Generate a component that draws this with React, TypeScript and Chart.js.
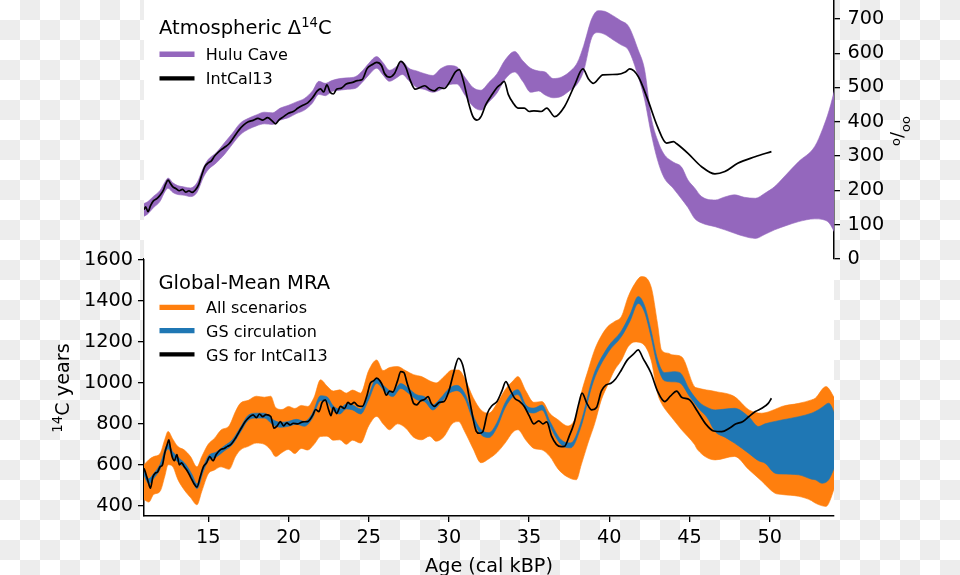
import React, { useEffect, useRef } from "react";
import { Chart, registerables } from "chart.js";

Chart.register(...registerables);

const FONT = '"DejaVu Sans", sans-serif';
const X_MIN = 11;
const X_MAX = 54;
const xTicks = [15, 20, 25, 30, 35, 40, 45, 50];
const topYTicks = [0, 100, 200, 300, 400, 500, 600, 700];
const bottomYTicks = [400, 600, 800, 1000, 1200, 1400, 1600];

const PURPLE = "#9467bd";
const ORANGE = "#ff7f0e";
const BLUE = "#1f77b4";

// ---- Top panel: Atmospheric D14C ----
const huluAge = [10.9, 11.2, 11.6, 12.0, 12.3, 12.5, 12.8, 13.1, 13.5, 13.9, 14.3, 14.7, 15.0, 15.5, 16.0, 16.5, 17.0, 17.5, 18.0, 18.5, 19.0, 19.5, 20.0, 20.5, 21.0, 21.5, 21.9, 22.3, 22.7, 23.2, 23.7, 24.2, 24.6, 25.0, 25.5, 25.9, 26.3, 26.7, 27.1, 27.5, 28.0, 28.5, 29.0, 29.5, 30.0, 30.5, 31.0, 31.5, 32.0, 32.5, 33.0, 33.5, 34.1, 34.6, 35.1, 35.6, 36.0, 36.5, 37.0, 37.5, 38.0, 38.4, 38.9, 39.3, 39.7, 40.2, 40.7, 41.2, 41.8, 42.2, 42.6, 43.0, 43.4, 44.0, 44.5, 44.9, 45.3, 45.75, 46.6, 47.2, 47.8, 48.4, 49.1, 49.7, 50.3, 51.0, 51.8, 52.8, 53.3, 53.7, 54.1];
const huluUpper = [160, 166, 183, 200, 224, 236, 222, 214, 210, 207, 222, 266, 290, 310, 338, 366, 396, 410, 420, 428, 426, 440, 448, 458, 468, 490, 518, 512, 520, 526, 528, 532, 548, 570, 590, 572, 550, 560, 575, 556, 548, 540, 535, 555, 564, 560, 530, 500, 492, 515, 540, 580, 605, 578, 556, 548, 545, 526, 530, 545, 572, 622, 700, 724, 722, 710, 695, 678, 609, 551, 415, 347, 306, 282, 268, 230, 208, 182, 172, 181, 187, 180, 177, 192, 211, 245, 284, 328, 380, 434, 505];
const huluLower = [122, 130, 150, 168, 196, 206, 194, 188, 186, 182, 194, 238, 260, 280, 304, 334, 362, 378, 388, 394, 392, 405, 412, 424, 434, 455, 480, 476, 488, 492, 495, 498, 515, 536, 556, 536, 518, 527, 538, 520, 500, 494, 486, 494, 508, 510, 478, 445, 434, 458, 484, 524, 545, 518, 486, 490, 478, 470, 474, 490, 510, 548, 645, 660, 655, 640, 625, 608, 532, 464, 367, 289, 238, 205, 175, 150, 119, 105, 94, 85, 75, 66, 60, 72, 85, 97, 109, 117, 115, 105, 72];

const intcalAge = [10.9, 11.0, 11.1, 11.25, 11.4, 11.6, 11.8, 12.0, 12.2, 12.35, 12.5, 12.65, 12.8, 13.0, 13.2, 13.4, 13.6, 13.8, 14.0, 14.2, 14.4, 14.6, 14.8, 15.0, 15.2, 15.4, 15.6, 15.8, 16.0, 16.3, 16.6, 16.9, 17.2, 17.5, 17.8, 18.1, 18.4, 18.7, 19.0, 19.2, 19.4, 19.7, 20.0, 20.3, 20.6, 20.9, 21.2, 21.5, 21.8, 22.0, 22.2, 22.4, 22.6, 22.8, 23.0, 23.3, 23.6, 24.0, 24.3, 24.6, 24.9, 25.2, 25.5, 25.8, 26.0, 26.3, 26.6, 27.0, 27.3, 27.6, 27.9, 28.2, 28.5, 28.8, 29.1, 29.4, 29.7, 30.1, 30.4, 30.65, 30.9, 31.2, 31.5, 31.75, 32.0, 32.3, 32.7, 33.0, 33.25, 33.45, 33.7, 34.0, 34.3, 34.7, 35.0, 35.3, 35.75, 36.1, 36.6, 37.2, 37.8, 38.35, 38.7, 39.0, 39.6, 40.5, 41.0, 41.27, 41.8, 42.4, 43.0, 43.56, 44.0, 44.2, 44.9, 45.75, 46.58, 47.2, 48.0, 49.08, 50.1];
const intcalD14C = [150, 145, 152, 138, 155, 170, 176, 186, 200, 218, 230, 220, 210, 205, 199, 203, 195, 199, 194, 201, 216, 245, 270, 280, 286, 300, 310, 318, 325, 336, 355, 375, 390, 400, 404, 410, 405, 412, 402, 394, 405, 415, 425, 430, 440, 448, 455, 470, 490, 496, 487, 508, 486, 481, 495, 498, 510, 515, 520, 523, 555, 566, 573, 564, 540, 530, 540, 576, 560, 520, 495, 500, 505, 495, 490, 500, 497, 520, 545, 552, 520, 460, 415, 405, 415, 450, 480, 500, 510, 518, 480, 455, 440, 440, 430, 432, 430, 440, 415, 444, 503, 554, 525, 512, 537, 538, 545, 554, 532, 464, 386, 338, 342, 336, 308, 269, 248, 255, 279, 298, 313];

// ---- Bottom panel: Global-Mean MRA ----
const allAge = [11.0, 11.3, 11.6, 12.0, 12.3, 12.5, 12.8, 13.1, 13.5, 13.9, 14.3, 14.6, 15.0, 15.4, 15.8, 16.3, 16.7, 17.0, 17.5, 18.0, 18.5, 18.9, 19.2, 19.6, 20.0, 20.4, 20.8, 21.2, 21.6, 22.0, 22.4, 22.8, 23.2, 23.6, 24.0, 24.5, 25.0, 25.5, 25.9, 26.3, 26.8, 27.3, 27.8, 28.3, 28.8, 29.2, 29.7, 30.2, 30.6, 31.0, 31.5, 32.0, 32.5, 33.0, 33.5, 34.0, 34.3, 34.8, 35.3, 35.8, 36.3, 36.8, 37.4, 37.94, 38.25, 38.67, 39.08, 39.5, 39.9, 40.33, 40.75, 41.17, 41.6, 42.0, 42.6, 43.0, 43.25, 43.67, 43.9, 44.5, 45.3, 45.5, 46.6, 47.8, 48.7, 49.5, 50.3, 50.75, 51.8, 52.6, 52.83, 53.5, 54.1];
const allUpper = [600, 625, 640, 655, 725, 763, 725, 690, 673, 640, 590, 640, 700, 730, 770, 790, 860, 900, 915, 935, 930, 935, 880, 870, 885, 875, 890, 885, 930, 1015, 985, 960, 966, 950, 965, 950, 1060, 1112, 1060, 1075, 1080, 1060, 1040, 1031, 1010, 1000, 1031, 1063, 1063, 1020, 930, 868, 852, 900, 966, 1010, 1031, 960, 905, 909, 850, 820, 790, 840, 950, 1060, 1161, 1230, 1275, 1300, 1324, 1420, 1486, 1519, 1470, 1290, 1161, 1145, 1137, 1128, 982, 975, 958, 933, 868, 852, 870, 885, 900, 917, 925, 982, 917];
const allLower = [430, 418, 455, 470, 545, 600, 590, 530, 478, 440, 405, 470, 555, 575, 590, 578, 640, 672, 690, 706, 700, 672, 640, 660, 675, 655, 680, 672, 700, 738, 740, 720, 722, 700, 720, 706, 790, 836, 800, 771, 800, 780, 735, 722, 740, 715, 738, 800, 811, 760, 680, 610, 630, 660, 706, 760, 771, 720, 680, 673, 640, 580, 540, 527, 600, 706, 800, 917, 990, 1063, 1110, 1177, 1200, 1195, 1112, 950, 900, 852, 830, 771, 700, 673, 624, 641, 576, 520, 462, 455, 446, 425, 413, 397, 500];

const gsAge = [11.0, 11.3, 11.6, 12.0, 12.5, 12.8, 13.2, 13.6, 14.0, 14.3, 14.7, 15.0, 15.5, 16.0, 16.5, 17.0, 17.5, 18.0, 18.5, 19.0, 19.5, 20.0, 20.5, 21.0, 21.5, 22.0, 22.4, 22.8, 23.2, 23.6, 24.0, 24.5, 25.0, 25.5, 26.0, 26.5, 27.0, 27.5, 28.0, 28.5, 29.0, 29.5, 30.0, 30.5, 31.0, 31.5, 32.0, 32.5, 33.0, 33.5, 34.0, 34.3, 34.8, 35.3, 35.8, 36.3, 37.0, 37.6, 38.2, 39.0, 39.9, 40.75, 41.3, 41.8, 42.2, 42.6, 43.0, 43.45, 44.0, 44.4, 45.0, 45.6, 46.1, 46.6, 47.2, 47.8, 48.67, 49.3, 49.7, 50.33, 50.75, 51.8, 52.6, 52.83, 53.25, 53.67, 54.1];
const gsUpper = [572, 532, 557, 602, 702, 662, 632, 602, 552, 507, 592, 642, 662, 692, 722, 782, 842, 852, 852, 822, 807, 812, 822, 812, 852, 937, 932, 887, 872, 897, 892, 872, 942, 1022, 982, 957, 997, 972, 942, 932, 892, 927, 972, 988, 947, 842, 772, 757, 807, 902, 957, 967, 892, 877, 892, 812, 722, 707, 802, 1034, 1174, 1254, 1336, 1422, 1376, 1256, 1116, 1050, 1055, 1050, 966, 906, 880, 868, 872, 876, 836, 787, 800, 812, 819, 835, 852, 860, 880, 901, 840];
const gsLower = [548, 508, 533, 578, 678, 638, 608, 578, 528, 483, 568, 618, 638, 668, 698, 758, 818, 828, 828, 798, 783, 788, 798, 788, 828, 913, 908, 863, 848, 873, 868, 848, 918, 998, 958, 933, 973, 948, 918, 908, 868, 903, 948, 962, 923, 818, 748, 733, 783, 878, 933, 943, 868, 853, 868, 788, 698, 683, 778, 1006, 1146, 1226, 1304, 1388, 1344, 1224, 1084, 1010, 1005, 1000, 934, 872, 830, 762, 735, 706, 657, 620, 608, 559, 555, 551, 530, 527, 510, 527, 600];

const gsIntcalAge = [11.0, 11.1, 11.25, 11.4, 11.55, 11.7, 11.85, 12.0, 12.15, 12.3, 12.45, 12.55, 12.65, 12.75, 12.9, 13.05, 13.2, 13.35, 13.5, 13.7, 13.9, 14.1, 14.3, 14.5, 14.7, 14.9, 15.1, 15.3, 15.5, 15.75, 16.0, 16.2, 16.4, 16.7, 17.0, 17.3, 17.6, 17.8, 18.0, 18.2, 18.4, 18.6, 18.9, 19.1, 19.3, 19.5, 19.7, 19.9, 20.1, 20.3, 20.6, 20.9, 21.2, 21.5, 21.7, 21.9, 22.1, 22.3, 22.5, 22.65, 22.8, 23.0, 23.25, 23.5, 23.7, 23.9, 24.1, 24.3, 24.6, 24.9, 25.1, 25.3, 25.5, 25.7, 25.9, 26.1, 26.3, 26.5, 26.8, 27.0, 27.2, 27.4, 27.6, 27.8, 28.0, 28.2, 28.5, 28.7, 28.9, 29.1, 29.4, 29.7, 30.0, 30.3, 30.6, 30.85, 31.1, 31.4, 31.7, 31.9, 32.1, 32.4, 32.7, 33.0, 33.3, 33.55, 33.8, 34.1, 34.4, 34.7, 35.0, 35.3, 35.6, 35.85, 36.1, 36.4, 36.7, 37.0, 37.2, 37.5, 37.8, 38.1, 38.3, 38.6, 38.9, 39.2, 39.5, 39.8, 40.1, 40.4, 40.75, 41.1, 41.5, 41.8, 42.1, 42.6, 43.0, 43.45, 43.8, 44.2, 44.5, 45.0, 45.5, 46.0, 46.5, 47.0, 47.5, 47.9, 48.3, 48.7, 49.1, 49.5, 49.9, 50.1];
const gsIntcalMRA = [583, 560, 520, 486, 540, 559, 565, 590, 600, 660, 700, 722, 680, 640, 620, 650, 600, 610, 592, 570, 540, 510, 491, 540, 590, 610, 640, 620, 650, 673, 680, 690, 698, 730, 771, 810, 835, 844, 830, 848, 835, 845, 836, 779, 790, 811, 790, 805, 795, 803, 800, 810, 811, 840, 870, 860, 905, 917, 870, 840, 880, 850, 885, 875, 905, 895, 905, 890, 885, 940, 998, 1010, 1023, 1010, 980, 940, 960, 955, 1010, 1055, 1050, 998, 950, 900, 893, 910, 920, 933, 900, 885, 905, 909, 960, 1050, 1120, 1090, 1000, 870, 765, 754, 760, 852, 890, 909, 960, 1006, 970, 925, 910, 885, 840, 800, 815, 800, 810, 740, 700, 689, 690, 740, 803, 900, 950, 900, 868, 880, 960, 990, 998, 1020, 1063, 1110, 1140, 1161, 1120, 1047, 960, 909, 935, 960, 930, 917, 860, 800, 765, 762, 780, 800, 810, 836, 860, 876, 900, 925];

const topLegendTitle = ["Atmospheric Δ", "14", "C"];
const topLegendLabels = ["Hulu Cave", "IntCal13"];
const bottomLegendTitle = "Global-Mean MRA";
const bottomLegendLabels = ["All scenarios", "GS circulation", "GS for IntCal13"];

function pts(xs: number[], ys: number[]) {
  return xs.map((x, i) => ({ x, y: ys[i] }));
}

type Part = { text: string; size: number; rise?: number };

function partsWidth(ctx: CanvasRenderingContext2D, parts: Part[]) {
  let w = 0;
  for (const p of parts) {
    ctx.font = `${p.size}px ${FONT}`;
    w += ctx.measureText(p.text).width;
  }
  return w;
}

function drawParts(ctx: CanvasRenderingContext2D, parts: Part[], x: number, y: number) {
  let cx = x;
  for (const p of parts) {
    ctx.font = `${p.size}px ${FONT}`;
    ctx.fillText(p.text, cx, y - (p.rise || 0));
    cx += ctx.measureText(p.text).width;
  }
}

const whiteArea = {
  id: "whiteArea",
  beforeDraw(chart: any) {
    const { ctx, chartArea: a } = chart;
    ctx.save();
    ctx.fillStyle = "#ffffff";
    ctx.fillRect(a.left, a.top, a.right - a.left, a.bottom - a.top);
    ctx.restore();
  },
};

function swatch(ctx: CanvasRenderingContext2D, y: number, color: string, w: number) {
  ctx.save();
  ctx.strokeStyle = color;
  ctx.lineWidth = w;
  ctx.lineCap = "butt";
  ctx.beginPath();
  ctx.moveTo(159.5, y);
  ctx.lineTo(194.5, y);
  ctx.stroke();
  ctx.restore();
}

const TITLE_SIZE = 19.5;
const LEGEND_SIZE = 16;
const AXIS_TITLE_SIZE = 19.2;

const topDecor = {
  id: "topDecor",
  afterDraw(chart: any) {
    const ctx: CanvasRenderingContext2D = chart.ctx;
    ctx.save();
    ctx.fillStyle = "#000";
    ctx.textBaseline = "alphabetic";
    ctx.textAlign = "left";
    drawParts(ctx, [
      { text: topLegendTitle[0], size: TITLE_SIZE },
      { text: topLegendTitle[1], size: 13.2, rise: 7 },
      { text: topLegendTitle[2], size: TITLE_SIZE },
    ], 159, 34);
    swatch(ctx, 54.3, PURPLE, 5.5);
    swatch(ctx, 78.3, "#000", 4.3);
    ctx.font = `${LEGEND_SIZE}px ${FONT}`;
    ctx.fillText(topLegendLabels[0], 205.8, 60);
    ctx.fillText(topLegendLabels[1], 205.8, 83.8);
    // per-mille axis label, rotated
    const parts: Part[] = [
      { text: "o", size: 13, rise: 3 },
      { text: "/", size: 18, rise: 0 },
      { text: "oo", size: 13, rise: -7 },
    ];
    const w = partsWidth(ctx, parts);
    ctx.translate(903, 131 + w / 2);
    ctx.rotate(-Math.PI / 2);
    drawParts(ctx, parts, 0, 0);
    ctx.restore();
  },
};

const bottomDecor = {
  id: "bottomDecor",
  afterDraw(chart: any) {
    const ctx: CanvasRenderingContext2D = chart.ctx;
    ctx.save();
    ctx.fillStyle = "#000";
    ctx.textBaseline = "alphabetic";
    ctx.textAlign = "left";
    ctx.font = `${TITLE_SIZE}px ${FONT}`;
    ctx.fillText(bottomLegendTitle, 158.5, 289);
    swatch(ctx, 307.3, ORANGE, 5.3);
    swatch(ctx, 330.7, BLUE, 5.3);
    swatch(ctx, 354.3, "#000", 4.3);
    ctx.font = `${LEGEND_SIZE}px ${FONT}`;
    ctx.fillText(bottomLegendLabels[0], 206, 313.2);
    ctx.fillText(bottomLegendLabels[1], 206, 336.8);
    ctx.fillText(bottomLegendLabels[2], 206, 360.5);
    // x axis title
    ctx.font = `${AXIS_TITLE_SIZE}px ${FONT}`;
    ctx.textAlign = "center";
    ctx.fillText("Age (cal kBP)", 489, 571.5);
    // y axis title with superscript, rotated
    ctx.textAlign = "left";
    const parts: Part[] = [
      { text: "14", size: 13.4, rise: 7 },
      { text: "C years", size: AXIS_TITLE_SIZE },
    ];
    const w = partsWidth(ctx, parts);
    ctx.translate(68.5, 388 + w / 2);
    ctx.rotate(-Math.PI / 2);
    drawParts(ctx, parts, 0, 0);
    ctx.restore();
  },
};

const tickFont = { family: FONT, size: 19.3 };
const plainTick = (v: any) => String(v);

export default function App() {
  const topRef = useRef<HTMLCanvasElement>(null);
  const botRef = useRef<HTMLCanvasElement>(null);

  useEffect(() => {
    const top = new Chart(topRef.current as HTMLCanvasElement, {
      type: "line",
      data: {
        datasets: [
          {
            label: topLegendLabels[1],
            data: pts(intcalAge, intcalD14C),
            borderColor: "#000",
            borderWidth: 1.7,
            pointRadius: 0,
            fill: false,
            cubicInterpolationMode: "monotone",
          },
          {
            label: topLegendLabels[0],
            data: pts(huluAge, huluUpper),
            borderColor: PURPLE,
            borderWidth: 0.6,
            backgroundColor: PURPLE,
            pointRadius: 0,
            fill: 2,
            cubicInterpolationMode: "monotone",
          },
          {
            label: "Hulu lower",
            data: pts(huluAge, huluLower),
            borderColor: PURPLE,
            borderWidth: 0.6,
            pointRadius: 0,
            fill: false,
            cubicInterpolationMode: "monotone",
          },
        ],
      } as any,
      options: {
        animation: false,
        responsive: false,
        layout: { padding: { left: 144, top: 0, right: 0, bottom: 316 } },
        scales: {
          x: { type: "linear", min: X_MIN, max: X_MAX, display: false },
          y: {
            type: "linear",
            position: "right",
            min: 0,
            max: 755,
            afterBuildTicks: (s: any) => {
              s.ticks = topYTicks.map((v) => ({ value: v }));
            },
            afterFit: (s: any) => {
              s.width = 126;
              s.paddingTop = 0;
              s.paddingBottom = 0;
            },
            ticks: { font: tickFont, color: "#000", padding: 7.5, callback: plainTick },
            grid: { drawOnChartArea: false, tickLength: 6, color: "#000", lineWidth: 1.3 },
            border: { color: "#000", width: 1.5 },
          },
        },
        plugins: { legend: { display: false }, tooltip: { enabled: false } },
      } as any,
      plugins: [whiteArea, topDecor],
    });

    const bot = new Chart(botRef.current as HTMLCanvasElement, {
      type: "line",
      data: {
        datasets: [
          {
            label: bottomLegendLabels[2],
            data: pts(gsIntcalAge, gsIntcalMRA),
            borderColor: "#000",
            borderWidth: 1.7,
            pointRadius: 0,
            fill: false,
            cubicInterpolationMode: "monotone",
          },
          {
            label: bottomLegendLabels[1],
            data: pts(gsAge, gsUpper),
            borderColor: BLUE,
            borderWidth: 0.6,
            backgroundColor: BLUE,
            pointRadius: 0,
            fill: 2,
            cubicInterpolationMode: "monotone",
          },
          {
            label: "GS lower",
            data: pts(gsAge, gsLower),
            borderColor: BLUE,
            borderWidth: 0.6,
            pointRadius: 0,
            fill: false,
            cubicInterpolationMode: "monotone",
          },
          {
            label: bottomLegendLabels[0],
            data: pts(allAge, allUpper),
            borderColor: ORANGE,
            borderWidth: 0.6,
            backgroundColor: ORANGE,
            pointRadius: 0,
            fill: 4,
            cubicInterpolationMode: "monotone",
          },
          {
            label: "All lower",
            data: pts(allAge, allLower),
            borderColor: ORANGE,
            borderWidth: 0.6,
            pointRadius: 0,
            fill: false,
            cubicInterpolationMode: "monotone",
          },
        ],
      } as any,
      options: {
        animation: false,
        responsive: false,
        layout: { padding: { left: 0, top: 259, right: 126, bottom: 0 } },
        scales: {
          x: {
            type: "linear",
            position: "bottom",
            min: X_MIN,
            max: X_MAX,
            afterBuildTicks: (s: any) => {
              s.ticks = xTicks.map((v) => ({ value: v }));
            },
            afterFit: (s: any) => {
              s.height = 59;
              s.paddingLeft = 0;
              s.paddingRight = 0;
            },
            ticks: { font: tickFont, color: "#000", padding: 4.5, maxRotation: 0, autoSkip: false, callback: plainTick },
            grid: { drawOnChartArea: false, tickLength: 6, color: "#000", lineWidth: 1.3 },
            border: { color: "#000", width: 1.5 },
          },
          y: {
            type: "linear",
            position: "left",
            min: 350,
            max: 1605,
            afterBuildTicks: (s: any) => {
              s.ticks = bottomYTicks.map((v) => ({ value: v }));
            },
            afterFit: (s: any) => {
              s.width = 144;
              s.paddingTop = 0;
              s.paddingBottom = 0;
            },
            ticks: { font: tickFont, color: "#000", padding: 5, callback: plainTick },
            grid: { drawOnChartArea: false, tickLength: 6, color: "#000", lineWidth: 1.3 },
            border: { color: "#000", width: 1.5 },
          },
        },
        plugins: { legend: { display: false }, tooltip: { enabled: false } },
      } as any,
      plugins: [whiteArea, bottomDecor],
    });

    return () => {
      top.destroy();
      bot.destroy();
    };
  }, []);

  const canvasStyle: React.CSSProperties = {
    position: "absolute",
    left: 0,
    top: 0,
    width: 960,
    height: 575,
  };

  return (
    <div
      style={{
        position: "fixed",
        left: 0,
        top: 0,
        width: 960,
        height: 575,
        overflow: "hidden",
        backgroundColor: "#ffffff",
        backgroundImage: "repeating-conic-gradient(#ededed 0% 25%, #ffffff 0% 50%)",
        backgroundSize: "40px 40px",
      }}
    >
      <canvas ref={botRef} width={960} height={575} style={canvasStyle} />
      <canvas ref={topRef} width={960} height={575} style={canvasStyle} />
    </div>
  );
}
